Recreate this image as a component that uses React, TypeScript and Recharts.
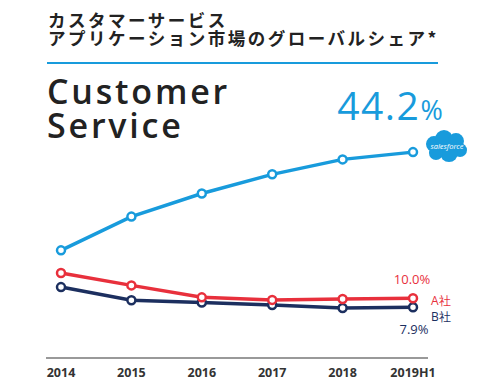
import React from 'react';
import { LineChart, Line, XAxis, YAxis, LabelList } from 'recharts';

const years = ['2014', '2015', '2016', '2017', '2018', '2019H1'];
const salesforceShare = [21.2, 29.1, 34.5, 39.0, 42.5, 44.2];
const companyAShare = [15.9, 13.0, 10.2, 9.6, 9.8, 10.0];
const companyBShare = [12.6, 9.5, 9.0, 8.4, 7.7, 7.9];

const BLUE = '#189bdc';
const RED = '#e8303c';
const NAVY = '#1c2f5f';

const data = years.map((year, i) => ({
    year,
    salesforce: salesforceShare[i],
    a: companyAShare[i],
    b: companyBShare[i],
}));

const last = years.length - 1;

const SalesforceLabel = (props: any) => {
    const { x, y, index, value } = props;
    if (index !== last) return null;
    const cx = x + 33;
    const cy = y - 5;
    return (
        <g>
            <text x={x - 23} y={y - 32} textAnchor="middle" fill={BLUE} fontFamily="Open Sans" fontWeight={400}>
                <tspan fontSize={39} letterSpacing={1.5}>{value.toFixed(1)}</tspan>
                <tspan fontSize={27}>%</tspan>
            </text>
            <g fill={BLUE}>
                <circle cx={cx - 12} cy={cy - 3} r={8} />
                <circle cx={cx - 2} cy={cy - 8} r={9} />
                <circle cx={cx + 10} cy={cy - 6} r={8} />
                <circle cx={cx + 14} cy={cy + 3} r={7} />
                <circle cx={cx + 3} cy={cy + 6} r={9} />
                <circle cx={cx - 10} cy={cy + 6} r={7} />
            </g>
            <text x={cx + 1} y={cy + 2} textAnchor="middle" fill="#fff" fontSize={7.5} fontFamily="Open Sans" fontStyle="italic">
                salesforce
            </text>
        </g>
    );
};

const CompanyALabel = (props: any) => {
    const { x, y, index, value } = props;
    if (index !== last) return null;
    return (
        <g fontFamily="Open Sans" fill={RED}>
            <text x={x - 1} y={y - 14} textAnchor="middle" fontSize={13}>{value.toFixed(1)}%</text>
            <text x={x + 18} y={y + 7} fontSize={12}>A社</text>
        </g>
    );
};

const CompanyBLabel = (props: any) => {
    const { x, y, index, value } = props;
    if (index !== last) return null;
    return (
        <g fontFamily="Open Sans" fill={NAVY}>
            <text x={x + 18} y={y + 14} fontSize={12}>B社</text>
            <text x={x + 1} y={y + 27} textAnchor="middle" fontSize={13}>{value.toFixed(1)}%</text>
        </g>
    );
};

export default function App() {
    return (
        <div style={{ position: 'absolute', left: 0, top: 0, width: 480, height: 392, background: '#fff' }}>
            <div
                style={{
                    position: 'absolute', left: 48, top: 11, fontFamily: '"Noto Sans CJK JP"', fontWeight: 700,
                    fontSize: 17.5, lineHeight: '17.5px', letterSpacing: 2.5, color: '#222', whiteSpace: 'nowrap',
                }}
            >
                カスタマーサービス<br />アプリケーション市場のグローバルシェア*
            </div>
            <div style={{ position: 'absolute', left: 47, top: 62, width: 391, height: 1.5, background: BLUE }} />
            <div
                style={{
                    position: 'absolute', left: 47, top: 75, fontFamily: '"Open Sans"', fontWeight: 600,
                    fontSize: 34, lineHeight: '33.5px', letterSpacing: 2.8, color: '#222',
                }}
            >
                Customer<br />Service
            </div>
            <div style={{ position: 'absolute', left: 0, top: 0 }}>
                <LineChart width={480} height={392} data={data} margin={{ top: 59, right: 52, left: 46, bottom: 4 }}>
                    <XAxis
                        dataKey="year"
                        scale="point"
                        padding={{ left: 15, right: 15 }}
                        height={30}
                        axisLine={{ stroke: '#777', strokeWidth: 1.5 }}
                        tickLine={false}
                        tickMargin={4}
                        tick={{ fill: '#333', fontSize: 12.5, fontWeight: 700, fontFamily: 'Open Sans' }}
                    />
                    <YAxis hide domain={[-4, 66]} />
                    <Line
                        dataKey="salesforce"
                        stroke={BLUE}
                        strokeWidth={3.5}
                        dot={{ r: 4, fill: '#fff', stroke: BLUE, strokeWidth: 2.5 }}
                        isAnimationActive={false}
                    >
                        <LabelList dataKey="salesforce" content={SalesforceLabel} />
                    </Line>
                    <Line
                        dataKey="b"
                        stroke={NAVY}
                        strokeWidth={3.5}
                        dot={{ r: 4, fill: '#fff', stroke: NAVY, strokeWidth: 2.5 }}
                        isAnimationActive={false}
                    >
                        <LabelList dataKey="b" content={CompanyBLabel} />
                    </Line>
                    <Line
                        dataKey="a"
                        stroke={RED}
                        strokeWidth={3.5}
                        dot={{ r: 4, fill: '#fff', stroke: RED, strokeWidth: 2.5 }}
                        isAnimationActive={false}
                    >
                        <LabelList dataKey="a" content={CompanyALabel} />
                    </Line>
                </LineChart>
            </div>
        </div>
    );
}
